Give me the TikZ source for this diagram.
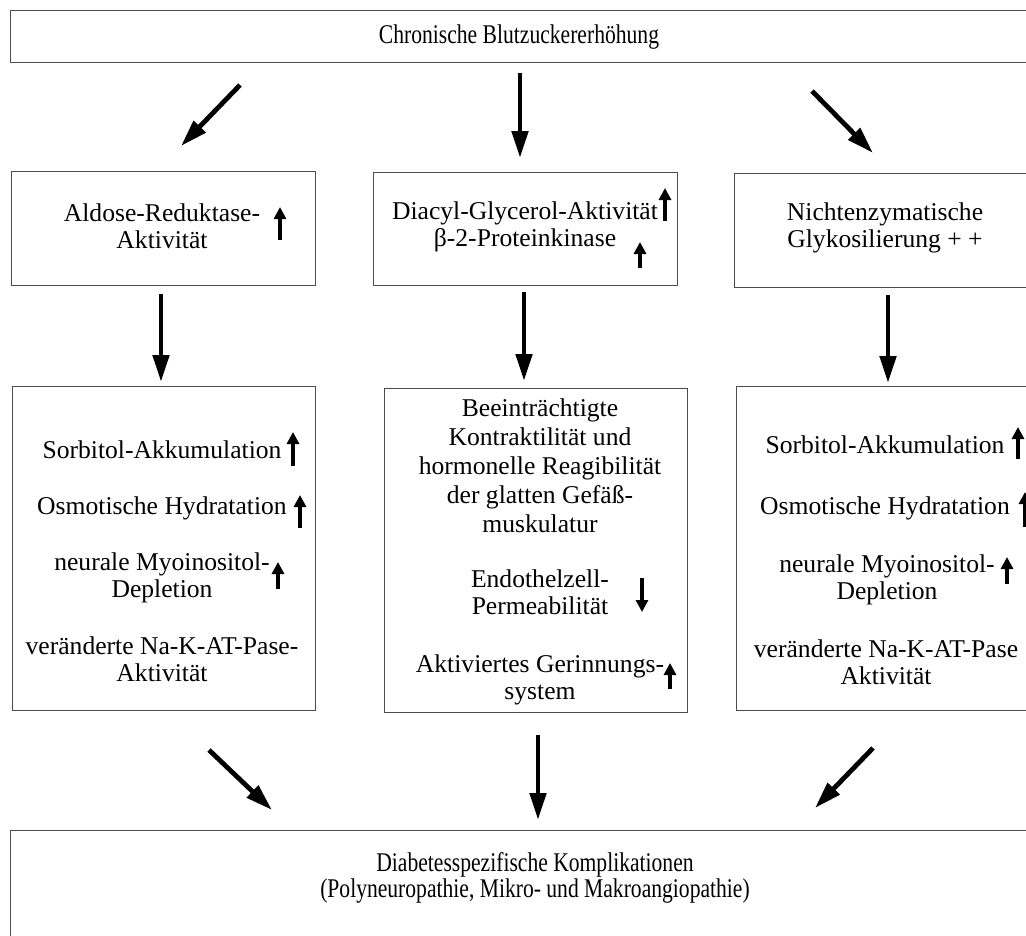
\documentclass[tikz,border=0pt]{standalone}
\usepackage{fontspec}
\setmainfont{Liberation Serif}
\newfontfamily\condfont{Liberation Serif}[FakeStretch=0.8]
\usetikzlibrary{arrows.meta}
\begin{document}
\begin{tikzpicture}[x=1pt,y=-1pt,
  box/.style={draw=black!70, line width=1.2pt, inner sep=0pt, anchor=north west},
  txt/.style={align=center, inner sep=0pt, font=\fontsize{25.6}{27.5}\selectfont},
  ctxt/.style={align=center, inner sep=0pt, font=\condfont\fontsize{27}{26}\selectfont},
  bigarrow/.style={line width=4.8pt, -{Triangle[length=27pt,width=16pt]}},
  smallarrow/.style={line width=4.4pt, -{Triangle[length=12pt,width=12pt]}},
]
\useasboundingbox (0,0) rectangle (1026,935);
\clip (0,0) rectangle (1026,935);
\fill[white] (0,0) rectangle (1026,935);

% boxes
\node[box, minimum width=1030pt, minimum height=52pt] (top) at (10,10) {};
\node[box, minimum width=304pt, minimum height=114pt] (bA) at (11,171) {};
\node[box, minimum width=304pt, minimum height=113pt] (bD) at (373,172) {};
\node[box, minimum width=310pt, minimum height=114pt] (bN) at (734,173) {};
\node[box, minimum width=303pt, minimum height=324pt] (cL) at (12,386) {};
\node[box, minimum width=303pt, minimum height=324pt] (cM) at (384,388) {};
\node[box, minimum width=310pt, minimum height=324pt] (cR) at (736,386) {};
\node[box, minimum width=1030pt, minimum height=140pt] (bot) at (10,830) {};

% texts
\node[ctxt] (ttop) at (519,37) {Chronische Blutzuckererhöhung};
\node[txt] (tA) at (162,226) {Aldose-Reduktase-\\Aktivität};
\node[txt] (tD) at (525,227) {Diacyl-Glycerol-Aktivität\\β-2-Proteinkinase};
\node[txt] (tN) at (885,228) {Nichtenzymatische\\Glykosilierung + +};

\node[txt] (l1) at (162,450) {Sorbitol-Akkumulation};
\node[txt] (l2) at (162,508) {Osmotische Hydratation};
\node[txt] (l3) at (162,578) {neurale Myoinositol-\\Depletion};
\node[txt] (l4) at (162,659) {veränderte Na-K-AT-Pase-\\Aktivität};

\node[txt, font=\fontsize{25.6}{29}\selectfont] (m1) at (540,466) {Beeinträchtigte\\Kontraktilität und\\hormonelle Reagibilität\\der glatten Gefäß-\\muskulatur};
\node[txt] (m2) at (540,592) {Endothelzell-\\Permeabilität};
\node[txt] (m3) at (540,680) {Aktiviertes Gerinnungs-\\system};

\node[txt] (r1) at (885,445) {Sorbitol-Akkumulation};
\node[txt] (r2) at (885,508) {Osmotische Hydratation};
\node[txt] (r3) at (887,580) {neurale Myoinositol-\\Depletion};
\node[txt] (r4) at (886,662) {veränderte Na-K-AT-Pase\\Aktivität};

\node[ctxt] (tb) at (535,878) {Diabetesspezifische Komplikationen\\(Polyneuropathie, Mikro- und Makroangiopathie)};

% connector end points
\coordinate (a1s) at (240,85);  \coordinate (a1e) at (181,146);
\coordinate (a2s) at (520,73);  \coordinate (a2e) at (520,158);
\coordinate (a3s) at (812,91);  \coordinate (a3e) at (873,153);
\coordinate (b1s) at (161,294); \coordinate (b1e) at (161,382);
\coordinate (b2s) at (524,292); \coordinate (b2e) at (524,381);
\coordinate (b3s) at (888,295); \coordinate (b3e) at (888,383);
\coordinate (c1s) at (209,750); \coordinate (c1e) at (272,810);
\coordinate (c2s) at (538,735); \coordinate (c2e) at (538,820);
\coordinate (c3s) at (873,748); \coordinate (c3e) at (815,808);

\draw[bigarrow] (a1s) -- (a1e);
\draw[bigarrow] (a2s) -- (a2e);
\draw[bigarrow] (a3s) -- (a3e);
\draw[bigarrow] (b1s) -- (b1e);
\draw[bigarrow] (b2s) -- (b2e);
\draw[bigarrow] (b3s) -- (b3e);
\draw[bigarrow] (c1s) -- (c1e);
\draw[bigarrow] (c2s) -- (c2e);
\draw[bigarrow] (c3s) -- (c3e);

% small indicator arrows
\draw[smallarrow] (280,240) -- (280,207);
\draw[smallarrow] (665,221) -- (665,188);
\draw[smallarrow] (640,268) -- (640,242);
\draw[smallarrow] (293,466) -- (293,432);
\draw[smallarrow] (300,528) -- (300,495);
\draw[smallarrow] (278,589) -- (278,562);
\draw[smallarrow] (642,578) -- (642,612);
\draw[smallarrow] (670,689) -- (670,663);
\draw[smallarrow] (1018,459) -- (1018,427);
\draw[smallarrow] (1025,527) -- (1025,492);
\draw[smallarrow] (1007,584) -- (1007,557);
\end{tikzpicture}
\end{document}
